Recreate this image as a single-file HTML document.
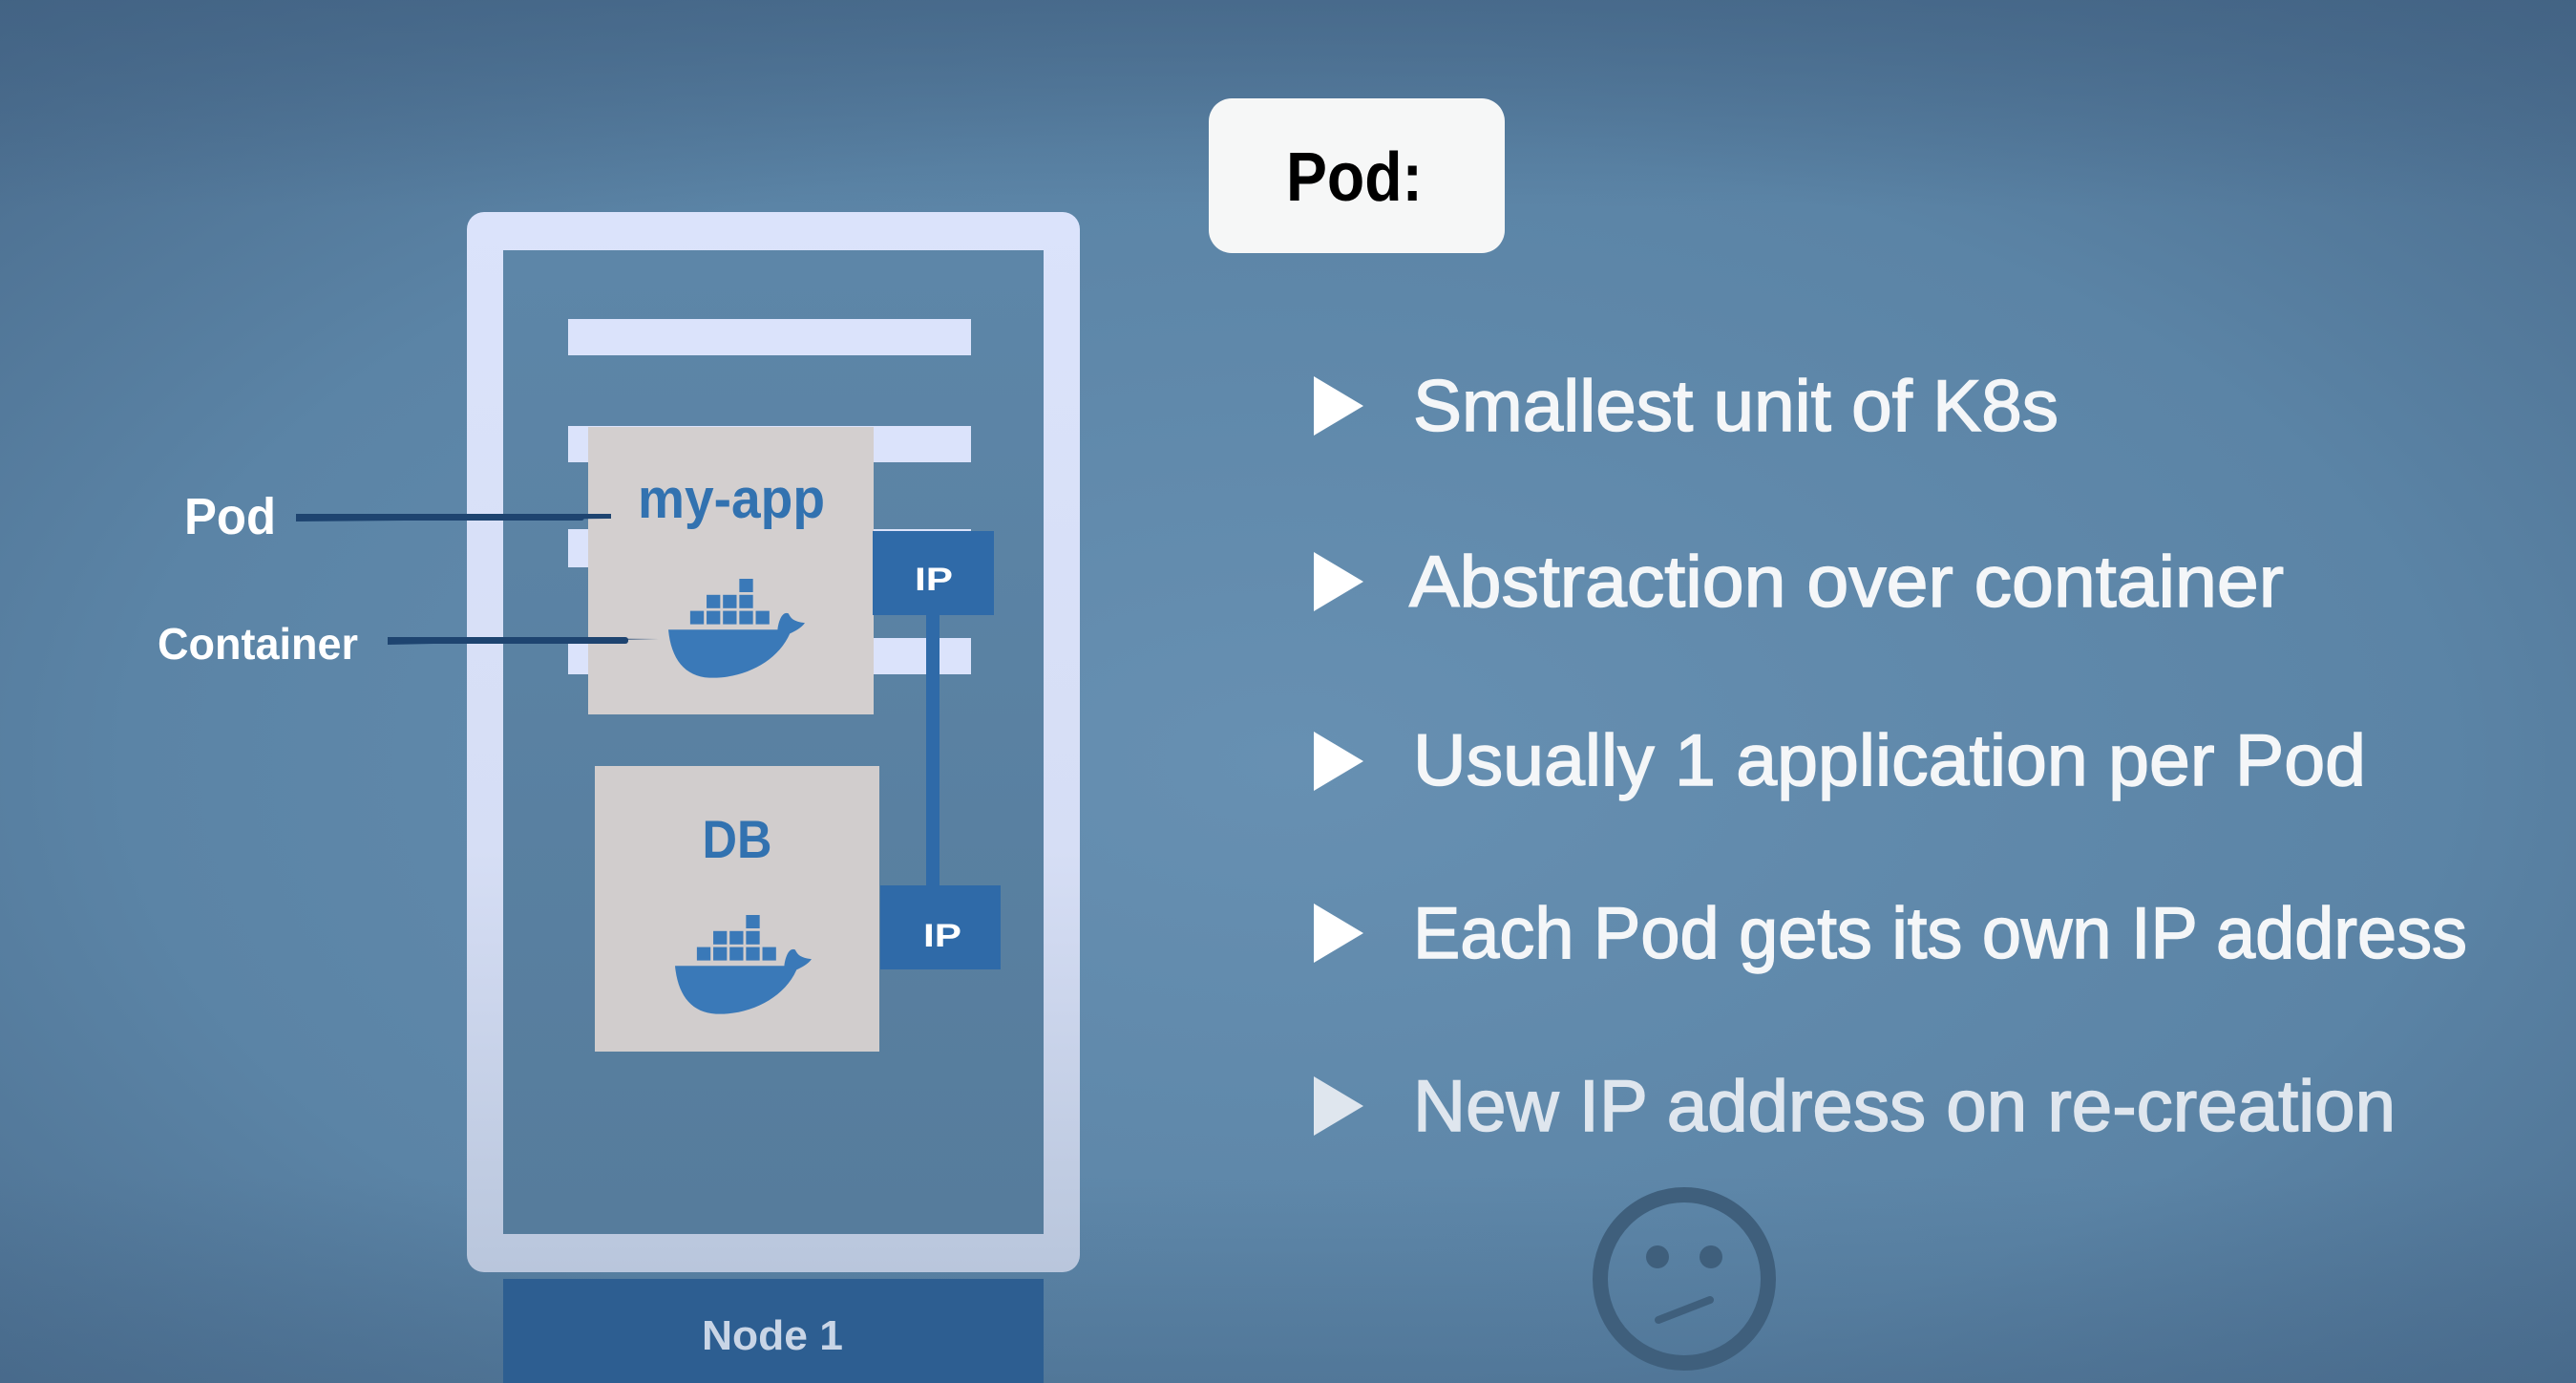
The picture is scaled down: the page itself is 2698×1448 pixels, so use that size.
<!DOCTYPE html>
<html><head><meta charset="utf-8"><style>
html,body{margin:0;padding:0}
body{width:2698px;height:1448px;overflow:hidden;background:#5a83a5}
svg{display:block}
</style></head><body>
<svg width="2698" height="1448" viewBox="0 0 2698 1448" xmlns="http://www.w3.org/2000/svg">
<defs>
<radialGradient id="bg" cx="0.5" cy="0.55" r="0.75">
<stop offset="0" stop-color="#6790b2"/>
<stop offset="0.6" stop-color="#5b84a6"/>
<stop offset="1" stop-color="#48698a"/>
</radialGradient>
<linearGradient id="top" x1="0" y1="0" x2="0" y2="1">
<stop offset="0" stop-color="#3f5f80" stop-opacity="0.6"/>
<stop offset="0.15" stop-color="#3f5f80" stop-opacity="0"/>
<stop offset="0.85" stop-color="#3f5f80" stop-opacity="0"/>
<stop offset="1" stop-color="#3f5f80" stop-opacity="0.35"/>
</linearGradient>
<linearGradient id="frame" x1="0" y1="0" x2="0" y2="1">
<stop offset="0" stop-color="#dbe3fb"/>
<stop offset="0.6" stop-color="#d6def5"/>
<stop offset="1" stop-color="#b9c6dc"/>
</linearGradient>
<linearGradient id="inner" x1="0" y1="0" x2="0" y2="1">
<stop offset="0" stop-color="#5d86a8"/>
<stop offset="1" stop-color="#567c9c"/>
</linearGradient>
<g id="whale" fill="#3a79b8">
<rect x="52" y="0" width="10" height="10"/>
<rect x="28" y="12" width="10" height="10"/><rect x="40" y="12" width="10" height="10"/><rect x="52" y="12" width="10" height="10"/>
<rect x="16" y="24" width="10" height="10"/><rect x="28" y="24" width="10" height="10"/><rect x="40" y="24" width="10" height="10"/><rect x="52" y="24" width="10" height="10"/><rect x="64" y="24" width="10" height="10"/>
<path d="M0 38 L80 38 C81 30 84 24 88 26 C90 30 92 32 100 33 C97 37 93 39 89 41 C80 62 55 75 30 74 C12 73 2 60 0 38 Z"/>
</g>
</defs>
<rect width="2698" height="1448" fill="url(#bg)"/>
<rect width="2698" height="1448" fill="url(#top)"/>

<!-- Node frame -->
<rect x="489" y="222" width="642" height="1110" rx="18" fill="url(#frame)"/>
<rect x="527" y="262" width="566" height="1030" fill="url(#inner)"/>
<rect x="527" y="1339" width="566" height="109" fill="#2d5e91"/>
<text x="809" y="1413" text-anchor="middle" font-family="Liberation Sans, sans-serif" font-size="44" font-weight="bold" fill="#c9d5e6" textLength="148" lengthAdjust="spacingAndGlyphs">Node 1</text>

<!-- bars -->
<rect x="595" y="334" width="422" height="38" fill="#dbe3fb"/>
<rect x="595" y="446" width="422" height="38" fill="#dbe3fb"/>
<rect x="595" y="554" width="422" height="40" fill="#dbe3fb"/>
<rect x="595" y="668" width="422" height="38" fill="#dbe3fb"/>

<!-- my-app -->
<rect x="616" y="447" width="299" height="301" fill="#d3cfcf"/>
<text x="766" y="542" text-anchor="middle" font-family="Liberation Sans, sans-serif" font-size="58" font-weight="bold" fill="#3272b0" textLength="196" lengthAdjust="spacingAndGlyphs">my-app</text>
<use href="#whale" transform="translate(700,606) scale(1.43,1.4)"/>

<!-- DB -->
<rect x="623" y="802" width="298" height="299" fill="#d1cdcd"/>
<text x="772" y="898" text-anchor="middle" font-family="Liberation Sans, sans-serif" font-size="56" font-weight="bold" fill="#3272b0" textLength="73" lengthAdjust="spacingAndGlyphs">DB</text>
<use href="#whale" transform="translate(707,958) scale(1.43,1.4)"/>

<!-- IP -->
<rect x="970" y="640" width="14" height="292" fill="#2f6aa8"/>
<rect x="914" y="556" width="127" height="88" fill="#2f6aa8"/>
<text x="978" y="618" text-anchor="middle" font-family="Liberation Sans, sans-serif" font-size="34" font-weight="bold" fill="#fff" textLength="40" lengthAdjust="spacingAndGlyphs">IP</text>
<rect x="922" y="927" width="126" height="88" fill="#2f6aa8"/>
<text x="987" y="991" text-anchor="middle" font-family="Liberation Sans, sans-serif" font-size="34" font-weight="bold" fill="#fff" textLength="40" lengthAdjust="spacingAndGlyphs">IP</text>

<!-- labels -->
<text x="193" y="559" font-family="Liberation Sans, sans-serif" font-size="54" font-weight="bold" fill="#fff" textLength="96" lengthAdjust="spacingAndGlyphs">Pod</text>
<path d="M310 538 L640 538 L640 543 L310 546 Z" fill="#1e4470"/>
<rect x="312" y="538" width="300" height="7" rx="3" fill="#1e4470"/>
<text x="165" y="690" font-family="Liberation Sans, sans-serif" font-size="46" font-weight="bold" fill="#fff" textLength="210" lengthAdjust="spacingAndGlyphs">Container</text>
<path d="M406 667 L690 669 L406 675 Z" fill="#1e4470"/>
<rect x="408" y="667" width="250" height="7" rx="3" fill="#1e4470"/>

<!-- Pod title -->
<rect x="1266" y="103" width="310" height="162" rx="24" fill="#f6f7f7"/>
<text x="1347" y="210" font-family="Liberation Sans, sans-serif" font-size="72" font-weight="bold" fill="#000" textLength="143" lengthAdjust="spacingAndGlyphs">Pod:</text>

<!-- bullets -->
<g fill="#ffffff">
<polygon points="1376,394 1428,425 1376,456"/>
<polygon points="1376,578 1428,609 1376,640"/>
<polygon points="1376,766 1428,797 1376,828"/>
<polygon points="1376,946 1428,977 1376,1008"/>
<polygon points="1376,1127 1428,1158 1376,1189" fill="#dfe6ee"/>
</g>
<g font-family="Liberation Sans, sans-serif" font-size="76" fill="#f4f6f8" stroke="#f4f6f8" stroke-width="1.5">
<text x="1480" y="451" textLength="676" lengthAdjust="spacingAndGlyphs">Smallest unit of K8s</text>
<text x="1476" y="635" textLength="916" lengthAdjust="spacingAndGlyphs">Abstraction over container</text>
<text x="1480" y="822" textLength="998" lengthAdjust="spacingAndGlyphs">Usually 1 application per Pod</text>
<text x="1480" y="1003" textLength="1104" lengthAdjust="spacingAndGlyphs">Each Pod gets its own IP address</text>
<text x="1480" y="1184" textLength="1029" lengthAdjust="spacingAndGlyphs" fill="#dfe6ee" stroke="#dfe6ee">New IP address on re-creation</text>
</g>

<!-- smiley -->
<g stroke="#3f5f7c" fill="none">
<circle cx="1764" cy="1339" r="88" stroke-width="16"/>
<line x1="1737" y1="1382" x2="1791" y2="1361" stroke-width="8" stroke-linecap="round"/>
</g>
<circle cx="1736" cy="1316" r="12" fill="#3f5f7c"/>
<circle cx="1792" cy="1316" r="12" fill="#3f5f7c"/>
</svg>
</body></html>
